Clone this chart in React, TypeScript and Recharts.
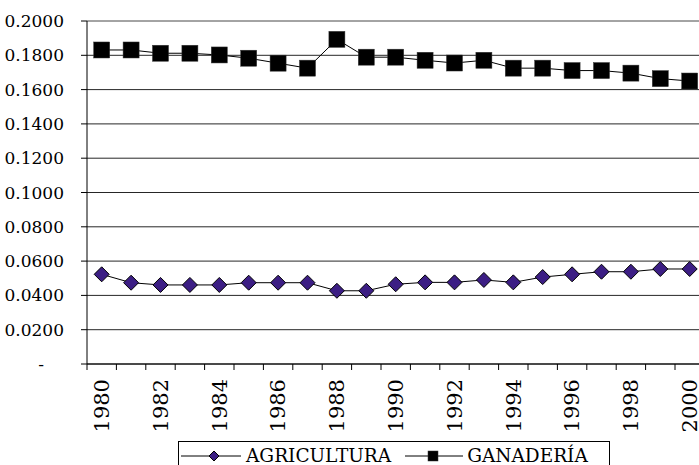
import React from "react";
import {
  LineChart,
  Line,
  XAxis,
  YAxis,
  CartesianGrid,
  ReferenceLine,
  Legend,
} from "recharts";

const years = [
  1980, 1981, 1982, 1983, 1984, 1985, 1986, 1987, 1988, 1989, 1990, 1991,
  1992, 1993, 1994, 1995, 1996, 1997, 1998, 1999, 2000,
];

const agricultura = [
  0.0523, 0.0474, 0.0461, 0.0461, 0.0461, 0.0474, 0.0474, 0.0474, 0.0427,
  0.0427, 0.0465, 0.0476, 0.0476, 0.049, 0.0476, 0.0507, 0.0523, 0.0538,
  0.0538, 0.0554, 0.0554,
];

const ganaderia = [
  0.1831, 0.1831, 0.1812, 0.1812, 0.1802, 0.1783, 0.1754, 0.1725, 0.1893,
  0.1789, 0.1789, 0.1771, 0.1755, 0.1771, 0.1725, 0.1725, 0.1711, 0.1711,
  0.1696, 0.1664, 0.165,
];

const yTicks = [0, 0.02, 0.04, 0.06, 0.08, 0.1, 0.12, 0.14, 0.16, 0.18, 0.2];

const data = years.map((y, i) => ({
  year: String(y),
  agricultura: agricultura[i],
  ganaderia: ganaderia[i],
}));

// Liberation Serif doesn't resolve here, DejaVu Serif does
const FONT = "DejaVu Serif, serif";
const PURPLE = "#3c1e84";
const BAND = 29.4;

function Diamond(props: any) {
  const { cx, cy } = props;
  const h = props.half ?? 7.5;
  if (cx == null || cy == null) return null;
  return (
    <polygon
      points={`${cx},${cy - h} ${cx + h},${cy} ${cx},${cy + h} ${cx - h},${cy}`}
      fill={PURPLE}
      stroke="#000"
      strokeWidth={1}
    />
  );
}

function Square(props: any) {
  const { cx, cy } = props;
  const s = props.side ?? 16;
  if (cx == null || cy == null) return null;
  return (
    <rect
      x={cx - s / 2}
      y={cy - s / 2}
      width={s}
      height={s}
      fill="#000"
      stroke="#333"
      strokeWidth={0.5}
    />
  );
}

function YTick(props: any) {
  const { x, y, payload } = props;
  const v = payload.value as number;
  return (
    <text
      x={v === 0 ? x - 20 : x}
      y={y}
      dy="0.355em"
      textAnchor="end"
      style={{ fontFamily: FONT, fontSize: 17 }}
      fill="#000"
    >
      {v === 0 ? "-" : v.toFixed(4)}
    </text>
  );
}

function XTick(props: any) {
  const { x, y, payload, index } = props;
  const top = y - 8;
  const isLast = index === years.length - 1;
  return (
    <g>
      <line x1={x - BAND / 2} y1={top} x2={x - BAND / 2} y2={top + 6} stroke="#000" />
      {isLast && (
        <line x1={x + BAND / 2} y1={top} x2={x + BAND / 2} y2={top + 6} stroke="#000" />
      )}
      {index % 2 === 0 && (
        <text
          x={x}
          y={top + 15}
          dy="0.35em"
          textAnchor="end"
          transform={`rotate(-90, ${x}, ${top + 15})`}
          style={{ fontFamily: FONT, fontSize: 21 }}
          fill="#000"
        >
          {payload.value}
        </text>
      )}
    </g>
  );
}

function LegendBox() {
  return (
    <div
      style={{
        boxSizing: "border-box",
        width: 432,
        height: 32,
        border: "1px solid #000",
        background: "#fff",
        display: "flex",
        alignItems: "flex-start",
        paddingTop: 4,
        paddingLeft: 2,
        fontFamily: FONT,
        fontSize: 18.5,
        lineHeight: "20px",
        color: "#000",
        whiteSpace: "nowrap",
      }}
    >
      <svg width={60} height={20} style={{ display: "block" }}>
        <line x1={0} y1={10} x2={60} y2={10} stroke="#000" />
        <Diamond cx={33} cy={10} half={5} />
      </svg>
      <span style={{ marginLeft: 5 }}>AGRICULTURA</span>
      <svg width={58} height={20} style={{ display: "block", marginLeft: 14 }}>
        <line x1={0} y1={10} x2={58} y2={10} stroke="#000" />
        <Square cx={28} cy={10} side={10} />
      </svg>
      <span style={{ marginLeft: 4 }}>GANADERÍA</span>
    </div>
  );
}

export default function App() {
  return (
    <div
      style={{
        position: "fixed",
        left: 0,
        top: 0,
        width: 699,
        height: 465,
        overflow: "hidden",
        background: "#fff",
        fontFamily: FONT,
      }}
    >
      <LineChart
        width={720}
        height={465}
        data={data}
        margin={{ top: 21, right: 15.6, left: 0, bottom: 0 }}
      >
        <CartesianGrid vertical={false} stroke="#000" strokeOpacity={0.85} />
        <ReferenceLine y={0.2} stroke="#b4b4b4" />
        <XAxis
          dataKey="year"
          interval={0}
          height={77}
          padding={{ left: BAND / 2, right: BAND / 2 }}
          axisLine={{ stroke: "#000" }}
          tickLine={false}
          tick={<XTick />}
        />
        <YAxis
          width={87}
          domain={[0, 0.2]}
          ticks={yTicks}
          interval={0}
          axisLine={{ stroke: "#000" }}
          tickLine={{ stroke: "#000" }}
          tickSize={6}
          tickMargin={17}
          tick={<YTick />}
        />
        <Legend
          verticalAlign="bottom"
          height={24}
          content={() => <LegendBox />}
          wrapperStyle={{ left: 178, top: 441, bottom: "auto", width: 432 }}
        />
        <Line
          type="linear"
          dataKey="agricultura"
          name="AGRICULTURA"
          stroke="#000"
          strokeWidth={1}
          dot={<Diamond />}
          activeDot={false}
          isAnimationActive={false}
        />
        <Line
          type="linear"
          dataKey="ganaderia"
          name="GANADERÍA"
          stroke="#000"
          strokeWidth={1}
          dot={<Square />}
          activeDot={false}
          isAnimationActive={false}
        />
      </LineChart>
    </div>
  );
}
